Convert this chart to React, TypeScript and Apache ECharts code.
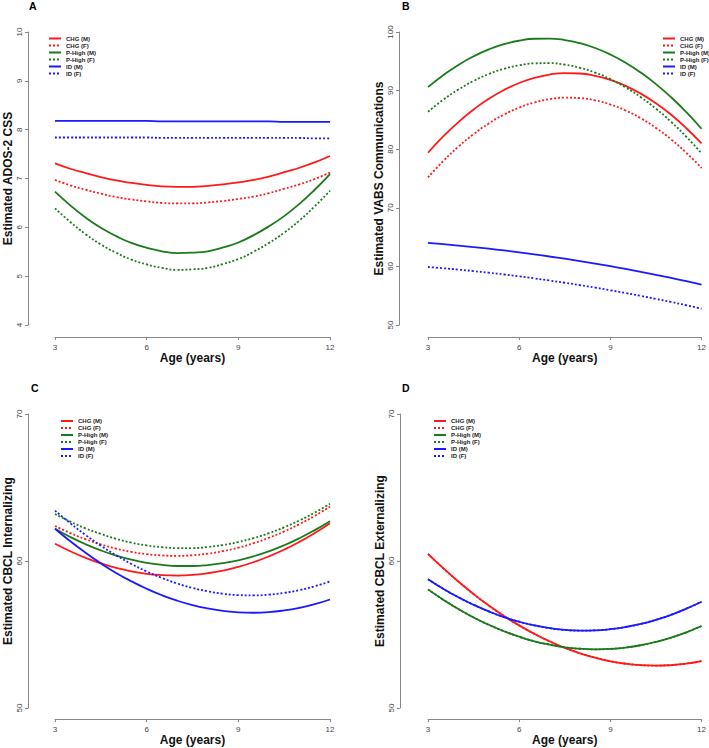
import React, { useEffect, useRef } from "react";
import * as echarts from "echarts";

const AGES = [3, 3.5, 4, 4.5, 5, 5.5, 6, 6.5, 7, 7.5, 8, 8.5, 9, 9.5, 10, 10.5, 11, 11.5, 12];
const X_TICKS = [3, 6, 9, 12];

const SERIES_NAMES = ["CHG (M)", "CHG (F)", "P-High (M)", "P-High (F)", "ID (M)", "ID (F)"];

// Panel A: Estimated ADOS-2 CSS
const A_CHG_M = [7.31, 7.2, 7.11, 7.03, 6.96, 6.91, 6.87, 6.84, 6.83, 6.83, 6.85, 6.88, 6.92, 6.97, 7.04, 7.13, 7.22, 7.33, 7.46];
const A_CHG_F = [6.97, 6.86, 6.77, 6.69, 6.62, 6.57, 6.53, 6.5, 6.49, 6.49, 6.51, 6.54, 6.58, 6.63, 6.7, 6.79, 6.88, 6.99, 7.12];
const A_PH_M = [6.73, 6.45, 6.2, 5.99, 5.82, 5.68, 5.58, 5.51, 5.47, 5.48, 5.51, 5.59, 5.69, 5.84, 6.02, 6.23, 6.48, 6.77, 7.09];
const A_PH_F = [6.39, 6.11, 5.86, 5.65, 5.48, 5.34, 5.24, 5.17, 5.13, 5.14, 5.17, 5.25, 5.35, 5.5, 5.68, 5.89, 6.14, 6.43, 6.75];
const A_ID_M = [8.18, 8.18, 8.18, 8.18, 8.18, 8.18, 8.18, 8.17, 8.17, 8.17, 8.17, 8.17, 8.17, 8.17, 8.17, 8.16, 8.16, 8.16, 8.16];
const A_ID_F = [7.84, 7.84, 7.84, 7.84, 7.84, 7.84, 7.84, 7.83, 7.83, 7.83, 7.83, 7.83, 7.83, 7.83, 7.83, 7.83, 7.83, 7.82, 7.82];

// Panel B: Estimated VABS Communications
const B_CHG_M = [79.39, 82.17, 84.63, 86.77, 88.6, 90.11, 91.3, 92.18, 92.74, 92.99, 92.92, 92.53, 91.83, 90.81, 89.48, 87.83, 85.87, 83.58, 80.99];
const B_CHG_F = [75.19, 77.97, 80.43, 82.57, 84.4, 85.91, 87.1, 87.98, 88.54, 88.79, 88.72, 88.33, 87.63, 86.61, 85.28, 83.63, 81.67, 79.38, 76.79];
const B_PH_M = [90.6, 92.63, 94.38, 95.85, 97.03, 97.92, 98.52, 98.85, 98.88, 98.63, 98.09, 97.27, 96.16, 94.76, 93.08, 91.11, 88.86, 86.32, 83.49];
const B_PH_F = [86.4, 88.43, 90.18, 91.65, 92.83, 93.72, 94.32, 94.65, 94.68, 94.43, 93.89, 93.07, 91.96, 90.56, 88.88, 86.91, 84.66, 82.12, 79.29];
const B_ID_M = [64.0, 63.79, 63.55, 63.3, 63.02, 62.72, 62.4, 62.06, 61.69, 61.31, 60.91, 60.48, 60.03, 59.56, 59.07, 58.56, 58.03, 57.47, 56.9];
const B_ID_F = [59.9, 59.69, 59.45, 59.2, 58.92, 58.62, 58.3, 57.96, 57.59, 57.21, 56.81, 56.38, 55.93, 55.46, 54.97, 54.46, 53.93, 53.37, 52.8];

// Panel C: Estimated CBCL Internalizing
const C_CHG_M = [61.17, 60.66, 60.21, 59.84, 59.53, 59.3, 59.13, 59.04, 59.01, 59.05, 59.17, 59.35, 59.6, 59.92, 60.31, 60.77, 61.3, 61.9, 62.57];
const C_CHG_F = [62.38, 61.9, 61.48, 61.13, 60.84, 60.62, 60.47, 60.38, 60.35, 60.39, 60.5, 60.67, 60.91, 61.21, 61.58, 62.01, 62.51, 63.07, 63.7];
const C_PH_M = [62.19, 61.63, 61.14, 60.72, 60.37, 60.09, 59.88, 59.74, 59.66, 59.66, 59.72, 59.85, 60.05, 60.32, 60.66, 61.07, 61.55, 62.1, 62.71];
const C_PH_F = [63.2, 62.68, 62.22, 61.84, 61.51, 61.25, 61.06, 60.94, 60.88, 60.88, 60.95, 61.09, 61.29, 61.56, 61.89, 62.29, 62.76, 63.29, 63.89];
const C_ID_M = [62.19, 61.34, 60.56, 59.84, 59.19, 58.62, 58.11, 57.67, 57.3, 57.0, 56.77, 56.6, 56.51, 56.48, 56.52, 56.64, 56.82, 57.06, 57.38];
const C_ID_F = [63.43, 62.57, 61.77, 61.04, 60.39, 59.8, 59.29, 58.85, 58.47, 58.17, 57.94, 57.77, 57.68, 57.66, 57.71, 57.83, 58.02, 58.28, 58.61];

// Panel D: Estimated CBCL Externalizing (male and female curves coincide)
const D_CHG_M = [60.49, 59.51, 58.6, 57.75, 56.97, 56.26, 55.62, 55.04, 54.53, 54.09, 53.72, 53.42, 53.18, 53.01, 52.91, 52.88, 52.92, 53.02, 53.19];
const D_CHG_F = [60.49, 59.51, 58.6, 57.75, 56.97, 56.26, 55.62, 55.04, 54.53, 54.09, 53.72, 53.42, 53.18, 53.01, 52.91, 52.88, 52.92, 53.02, 53.19];
const D_PH_M = [58.07, 57.37, 56.73, 56.16, 55.66, 55.22, 54.85, 54.54, 54.31, 54.13, 54.03, 53.99, 54.02, 54.11, 54.27, 54.5, 54.79, 55.15, 55.58];
const D_PH_F = [58.07, 57.37, 56.73, 56.16, 55.66, 55.22, 54.85, 54.54, 54.31, 54.13, 54.03, 53.99, 54.02, 54.11, 54.27, 54.5, 54.79, 55.15, 55.58];
const D_ID_M = [58.76, 58.11, 57.53, 57.02, 56.57, 56.18, 55.87, 55.62, 55.43, 55.31, 55.26, 55.28, 55.36, 55.51, 55.72, 56.0, 56.34, 56.76, 57.23];
const D_ID_F = [58.76, 58.11, 57.53, 57.02, 56.57, 56.18, 55.87, 55.62, 55.43, 55.31, 55.26, 55.28, 55.36, 55.51, 55.72, 56.0, 56.34, 56.76, 57.23];

const PANELS = [
  { letter: "A", yName: "Estimated ADOS-2 CSS", yMin: 4, yMax: 10, yInterval: 1, values: [A_CHG_M, A_CHG_F, A_PH_M, A_PH_F, A_ID_M, A_ID_F] },
  { letter: "B", yName: "Estimated VABS Communications", yMin: 50, yMax: 100, yInterval: 10, values: [B_CHG_M, B_CHG_F, B_PH_M, B_PH_F, B_ID_M, B_ID_F] },
  { letter: "C", yName: "Estimated CBCL Internalizing", yMin: 50, yMax: 70, yInterval: 10, values: [C_CHG_M, C_CHG_F, C_PH_M, C_PH_F, C_ID_M, C_ID_F] },
  { letter: "D", yName: "Estimated CBCL Externalizing", yMin: 50, yMax: 70, yInterval: 10, values: [D_CHG_M, D_CHG_F, D_PH_M, D_PH_F, D_ID_M, D_ID_F] },
];

// layout (pixels)
const GRIDS = [
  { left: 55, top: 32, width: 275, height: 293, yOff: 27, xOff: 12, yGap: 12, legendLeft: 48, legendTop: 35, letterLeft: 29, letterTop: 0 },
  { left: 428, top: 32, width: 275, height: 293, yOff: 29, xOff: 12, yGap: 10, legendLeft: 662, legendTop: 35, letterLeft: 402, letterTop: 0 },
  { left: 55, top: 414, width: 275, height: 294, yOff: 27, xOff: 11, yGap: 12, legendLeft: 60, legendTop: 417.5, letterLeft: 31, letterTop: 382 },
  { left: 428, top: 414, width: 275, height: 294, yOff: 28, xOff: 11, yGap: 13, legendLeft: 433, legendTop: 417.5, letterLeft: 402, letterTop: 382 },
];

const COLORS = ["#ff1a1a", "#ff1a1a", "#1b7a1b", "#1b7a1b", "#1a1aff", "#1a1aff"];
const DASHED = [false, true, false, true, false, true];
const FONT = "'Liberation Sans', Arial, Helvetica, sans-serif";

export default function App() {
  const ref = useRef<HTMLDivElement>(null);

  useEffect(() => {
    if (!ref.current) return;
    const chart = echarts.init(ref.current, null, { renderer: "svg" });

    const grid: any[] = [];
    const xAxis: any[] = [];
    const yAxis: any[] = [];
    const legend: any[] = [];
    const title: any[] = [];
    const series: any[] = [];

    PANELS.forEach((p, gi) => {
      const g = GRIDS[gi];
      grid.push({ left: g.left, top: g.top, width: g.width, height: g.height, containLabel: false });
      xAxis.push({
        type: "value",
        gridIndex: gi,
        min: 3,
        max: 12,
        interval: 3,
        offset: g.xOff,
        name: "Age (years)",
        nameLocation: "middle",
        nameGap: 15,
        nameTextStyle: { fontFamily: FONT, fontWeight: "bold", fontSize: 12, color: "#111" },
        axisLine: { show: true, lineStyle: { color: "#888", width: 1 } },
        axisTick: { show: true, length: 3, lineStyle: { color: "#888" } },
        axisLabel: {
          fontFamily: FONT,
          fontSize: 8,
          color: "#444",
          margin: 6,
          formatter: (v: number) => (X_TICKS.includes(v) ? String(v) : ""),
        },
        splitLine: { show: false },
      });
      yAxis.push({
        type: "value",
        gridIndex: gi,
        min: p.yMin,
        max: p.yMax,
        interval: p.yInterval,
        offset: g.yOff,
        name: p.yName,
        nameLocation: "middle",
        nameGap: g.yGap,
        nameRotate: 90,
        nameTextStyle: { fontFamily: FONT, fontWeight: "bold", fontSize: 12, color: "#111" },
        axisLine: { show: true, lineStyle: { color: "#888", width: 1 } },
        axisTick: { show: true, length: 3, lineStyle: { color: "#888" } },
        axisLabel: { fontFamily: FONT, fontSize: 8, color: "#444", rotate: 90, margin: 5 },
        splitLine: { show: false },
      });
      legend.push({
        data: SERIES_NAMES,
        orient: "vertical",
        left: g.legendLeft,
        top: g.legendTop,
        padding: 0,
        itemGap: 0,
        itemWidth: 12,
        itemHeight: 7,
        selectedMode: false,
        itemStyle: { color: "transparent", borderWidth: 0, opacity: 0 },
        lineStyle: { width: 2, opacity: 1 },
        textStyle: { fontFamily: FONT, fontSize: 6, fontWeight: "bold", color: "#222", lineHeight: 7 },
      });
      title.push({
        text: p.letter,
        left: g.letterLeft,
        top: g.letterTop,
        padding: 0,
        textStyle: { fontFamily: FONT, fontSize: 10.5, fontWeight: "bold", color: "#000" },
      });
      p.values.forEach((vals, si) => {
        series.push({
          type: "line",
          name: SERIES_NAMES[si],
          xAxisIndex: gi,
          yAxisIndex: gi,
          data: AGES.map((a, i) => [a, vals[i]]),
          smooth: true,
          symbol: "none",
          showSymbol: false,
          silent: true,
          color: COLORS[si],
          lineStyle: {
            color: COLORS[si],
            width: 1.8,
            type: DASHED[si] ? [2, 2] : "solid",
          },
        });
      });
    });

    chart.setOption({
      animation: false,
      backgroundColor: "#ffffff",
      title,
      legend,
      grid,
      xAxis,
      yAxis,
      series,
    });

    return () => chart.dispose();
  }, []);

  return (
    <div
      ref={ref}
      style={{ position: "fixed", left: 0, top: 0, width: 709, height: 748, background: "#fff" }}
    />
  );
}
